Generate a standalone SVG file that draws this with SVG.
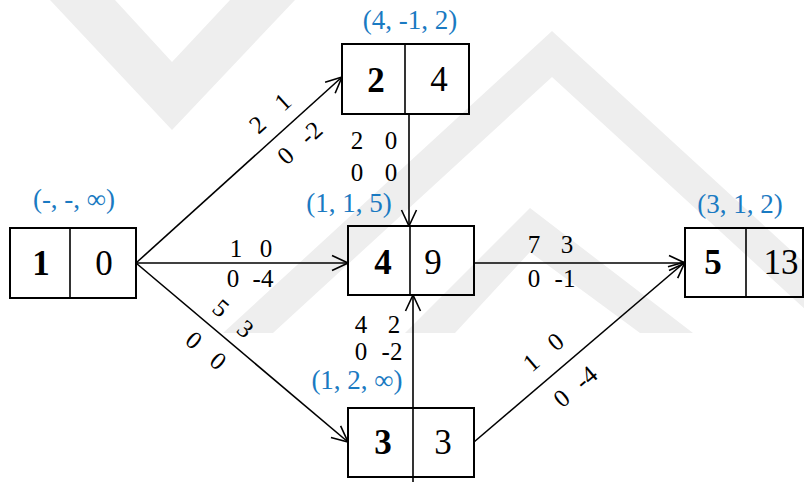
<svg xmlns="http://www.w3.org/2000/svg" width="804" height="482" viewBox="0 0 804 482">
<style>
.box{fill:none;stroke:#000;stroke-width:2}
.div{stroke:#000;stroke-width:1.6}
.edge{fill:none;stroke:#000;stroke-width:1.6}
.wm{fill:#eeeeee}
.nb{font-family:"Liberation Serif","Times New Roman",serif;font-weight:bold;font-size:35px;text-anchor:middle;fill:#000}
.nv{font-family:"Liberation Serif","Times New Roman",serif;font-size:35px;text-anchor:middle;fill:#000}
.lbl{font-family:"Liberation Serif","Times New Roman",serif;font-size:25px;text-anchor:middle;fill:#000}
.blue{font-family:"Liberation Serif","Times New Roman",serif;font-size:27px;text-anchor:middle;fill:#1a7ac2}
</style>
<defs>
<marker id="arr" markerUnits="userSpaceOnUse" markerWidth="18" markerHeight="18" viewBox="0 0 18 18" refX="17" refY="9" orient="auto">
<path d="M1,1.5 L17,9 L1,16.5" fill="none" stroke="#000" stroke-width="1.6"/>
</marker>
</defs>
<rect width="804" height="482" fill="#fff"/>
<g id="watermark">
<polygon class="wm" points="50,0 115,0 172,62 230,0 295,0 172,130"/>
<polygon class="wm" points="223,333 552,31 881,333 831,333 552,77 273,333"/>
<polygon class="wm" points="405,333 530,208 693,333 640,333 530,252 455,333"/>
</g>
<g id="connectors">
<line class="edge" x1="136" y1="263" x2="342" y2="77" marker-end="url(#arr)"/>
<line class="edge" x1="136" y1="263" x2="348" y2="263" marker-end="url(#arr)"/>
<line class="edge" x1="136" y1="263" x2="348" y2="442" marker-end="url(#arr)"/>
<line class="edge" x1="409" y1="114" x2="409" y2="226" marker-end="url(#arr)"/>
<line class="edge" x1="413" y1="482" x2="413" y2="295" marker-end="url(#arr)"/>
<line class="edge" x1="474" y1="263" x2="685" y2="263" marker-end="url(#arr)"/>
<line class="edge" x1="474" y1="442" x2="685" y2="262" marker-end="url(#arr)"/>
<g transform="translate(284.4,129) rotate(-42.1)">
<text class="lbl" x="-17" y="-13">2</text><text class="lbl" x="17" y="-13">1</text>
<text class="lbl" x="-17" y="29">0</text><text class="lbl" x="17" y="29">-2</text>
</g>
<g transform="translate(220,334) rotate(40.2)">
<text class="lbl" x="-16" y="-12">5</text><text class="lbl" x="16" y="-12">3</text>
<text class="lbl" x="-16" y="30">0</text><text class="lbl" x="16" y="30">0</text>
</g>
<g transform="translate(558.5,370) rotate(-40.5)">
<text class="lbl" x="-16" y="-15">1</text><text class="lbl" x="16" y="-15">0</text>
<text class="lbl" x="-16" y="32">0</text><text class="lbl" x="16" y="32">-4</text>
</g>
<text class="lbl" x="236" y="257">1</text><text class="lbl" x="266" y="257">0</text>
<text class="lbl" x="233" y="287">0</text><text class="lbl" x="263" y="287">-4</text>
<text class="lbl" x="534" y="253">7</text><text class="lbl" x="567" y="253">3</text>
<text class="lbl" x="534" y="287">0</text><text class="lbl" x="565" y="287">-1</text>
<text class="lbl" x="357" y="149">2</text><text class="lbl" x="391" y="149">0</text>
<text class="lbl" x="357" y="181">0</text><text class="lbl" x="391" y="181">0</text>
<text class="lbl" x="361" y="333">4</text><text class="lbl" x="394" y="333">2</text>
<text class="lbl" x="361" y="360">0</text><text class="lbl" x="392" y="360">-2</text>
</g>
<g id="node1">
<rect class="box" x="10" y="228" width="126" height="70"/>
<line class="div" x1="70" y1="228" x2="70" y2="298"/>
<text class="nb" x="41" y="275">1</text><text class="nv" x="104" y="275">0</text>
<text class="blue" x="74" y="208">(-, -, ∞)</text>
</g>
<g id="node2">
<rect class="box" x="342" y="44" width="127" height="70"/>
<line class="div" x1="405" y1="44" x2="405" y2="114"/>
<text class="nb" x="376" y="92">2</text><text class="nv" x="439" y="91">4</text>
<text class="blue" x="410" y="29">(4, -1, 2)</text>
</g>
<g id="node4">
<rect class="box" x="348" y="226" width="126" height="69"/>
<line class="div" x1="410" y1="226" x2="410" y2="295" stroke-width="2.4"/>
<text class="nb" x="383" y="274">4</text><text class="nv" x="433" y="274">9</text>
<text class="blue" x="349" y="212">(1, 1, 5)</text>
</g>
<g id="node3">
<rect class="box" x="348" y="408" width="126" height="69"/>
<text class="nb" x="383" y="454">3</text><text class="nv" x="443" y="454">3</text>
<text class="blue" x="357" y="389">(1, 2, ∞)</text>
</g>
<g id="node5">
<rect class="box" x="685" y="228" width="118" height="69"/>
<line class="div" x1="746" y1="228" x2="746" y2="297"/>
<text class="nb" x="713" y="274">5</text><text class="nv" x="781" y="274">13</text>
<text class="blue" x="740" y="213">(3, 1, 2)</text>
</g>
</svg>
